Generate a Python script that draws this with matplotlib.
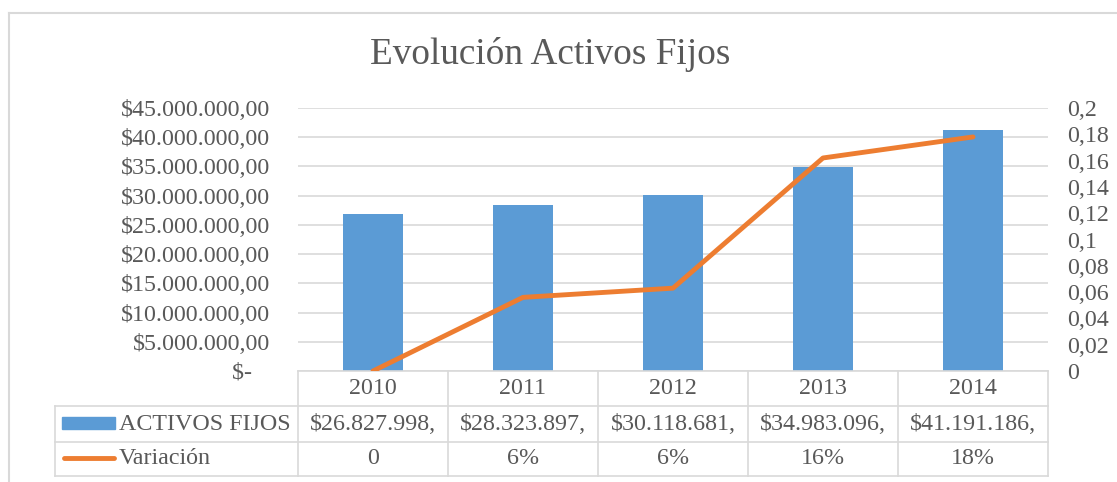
import numpy as np
import matplotlib.pyplot as plt
from matplotlib.patches import Rectangle
from matplotlib.lines import Line2D

years = ['2010', '2011', '2012', '2013', '2014']
activos = [26827998, 28323897, 30118681, 34983096, 41191186]
activos_labels = ['$26.827.998,', '$28.323.897,', '$30.118.681,', '$34.983.096,', '$41.191.186,']
variacion = [0.0, 0.056, 0.063, 0.162, 0.178]
variacion_labels = ['0', '6%', '6%', '16%', '18%']
left_ticks = [0, 5e6, 10e6, 15e6, 20e6, 25e6, 30e6, 35e6, 40e6, 45e6]
right_ticks = [0, 0.02, 0.04, 0.06, 0.08, 0.1, 0.12, 0.14, 0.16, 0.18, 0.2]

blue = '#5B9BD5'
orange = '#ED7D31'
txt = '#595959'
grid = '#D9D9D9'
fsize = 17.3

W, H = 1117, 482
plt.rcParams['font.family'] = ['Liberation Serif', 'DejaVu Serif']
fig = plt.figure(figsize=(W / 100, H / 100), dpi=100)


def fx(px):
    return px / W


def fy(py):
    return 1 - py / H


# plot area in pixels
x0, x1, ytop, ybot = 298, 1048, 108, 371
ax = fig.add_axes([fx(x0), fy(ybot), fx(x1) - fx(x0), fy(ytop) - fy(ybot)])


def ay(py):
    # pixel row -> axes fraction
    return (ybot - py) / (ybot - ytop)


x = np.arange(len(years))
ax.bar(x, activos, width=0.4, color=blue, zorder=2)
ax.set_xlim(-0.5, len(years) - 0.5)
ax.set_ylim(0, 45e6)
ax.set_yticks(left_ticks)


def money(v):
    if v == 0:
        return '$-   '
    s = f'{v:,.2f}'.replace(',', 'X').replace('.', ',').replace('X', '.')
    return '$' + s


ax.set_yticklabels([money(v) for v in left_ticks])
ax.yaxis.grid(True, color=grid, lw=1.2)
ax.set_axisbelow(True)
for s in ax.spines.values():
    s.set_visible(False)
ax.set_xticks([])
ax.tick_params(axis='y', length=0, labelsize=fsize, labelcolor=txt, pad=20)

ax2 = ax.twinx()
ax2.plot(x, variacion, color=orange, lw=3.5, solid_capstyle='round', zorder=3)
ax2.set_ylim(0, 0.2)
ax2.set_yticks(right_ticks)
ax2.set_yticklabels([f'{v:g}'.replace('.', ',') for v in right_ticks])
for s in ax2.spines.values():
    s.set_visible(False)
ax2.tick_params(axis='y', length=0, labelsize=fsize, labelcolor=txt, pad=14)

# data table below the plot
tr = ax.get_xaxis_transform()
rows_y = [371, 406, 442, 476]
for i, py in enumerate(rows_y):
    if i == 0:
        ax.add_line(Line2D([-0.5, 4.5], [ay(py)] * 2, transform=tr, color=grid, lw=1.2, clip_on=False))
    else:
        fig.add_artist(Line2D([fx(55), fx(x1)], [fy(py)] * 2, color=grid, lw=1.2))
for b in np.arange(len(years) + 1) - 0.5:
    ax.add_line(Line2D([b, b], [ay(371), ay(476)], transform=tr, color=grid, lw=1.2, clip_on=False))
fig.add_artist(Line2D([fx(55), fx(55)], [fy(406), fy(476)], color=grid, lw=1.2))

for i, yr in enumerate(years):
    ax.text(i, ay(389), yr, transform=tr, ha='center', va='center', fontsize=fsize, color=txt)
    ax.text(i, ay(424), activos_labels[i], transform=tr, ha='center', va='center', fontsize=fsize, color=txt)
    ax.text(i, ay(459), variacion_labels[i], transform=tr, ha='center', va='center', fontsize=fsize, color=txt)

# legend keys in the table
fig.add_artist(Rectangle((fx(62), fy(429)), fx(115) - fx(62), fy(417) - fy(429), color=blue))
fig.add_artist(Line2D([fx(64), fx(114)], [fy(458)] * 2, color=orange, lw=3.5, solid_capstyle='round'))
fig.text(fx(119), fy(424), 'ACTIVOS FIJOS', ha='left', va='center', fontsize=fsize, color=txt)
fig.text(fx(119), fy(459), 'Variación', ha='left', va='center', fontsize=fsize, color=txt)

# title and chart frame
fig.text(fx(550), fy(55), 'Evolución Activos Fijos', ha='center', va='center', fontsize=26.8, color=txt)
fig.add_artist(Line2D([fx(9), 1], [fy(13)] * 2, color=grid, lw=1.5))
fig.add_artist(Line2D([fx(9), fx(9)], [fy(13), 0], color=grid, lw=1.5))

fig.savefig('out.png', dpi=100)
